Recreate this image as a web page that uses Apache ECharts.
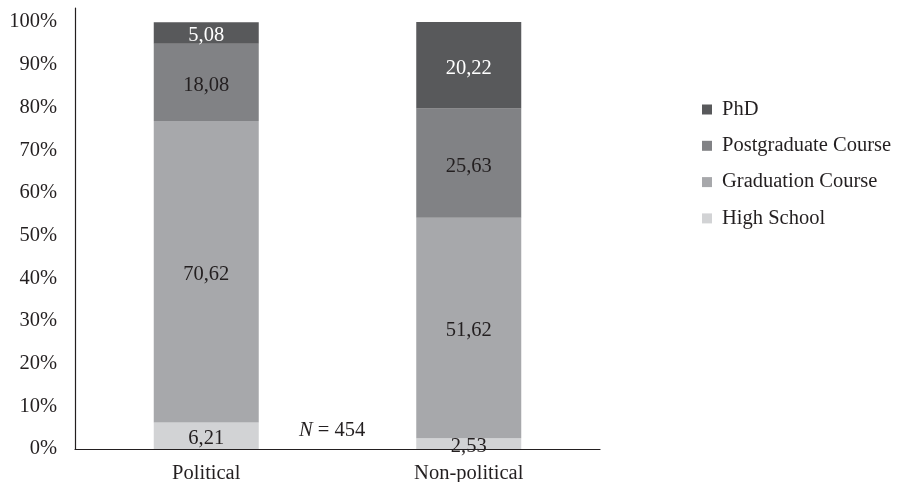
<!DOCTYPE html>
<html>
<head>
<meta charset="utf-8">
<script src="https://cdn.jsdelivr.net/npm/echarts@6/dist/echarts.min.js"></script>
<style>html,body{margin:0;padding:0;background:#fff;}#c{width:899px;height:482px;}</style>
</head>
<body>
<div id="c"></div>
<script>
const categories = ['Political', 'Non-political'];
const highSchool = [6.21, 2.53];
const graduation = [70.62, 51.62];
const postgraduate = [18.08, 25.63];
const phd = [5.08, 20.22];
const seriesNames = ['High School', 'Graduation Course', 'Postgraduate Course', 'PhD'];
const yTicks = [0, 10, 20, 30, 40, 50, 60, 70, 80, 90, 100];

const FONT = '"Liberation Serif", "DejaVu Serif", serif';
const FS = 20.5;
const colors = ['#d2d3d5', '#a7a8ab', '#818285', '#58595b'];
const labelColors = ['#231f20', '#231f20', '#231f20', '#ffffff'];
const dataSets = [highSchool, graduation, postgraduate, phd];

const chart = echarts.init(document.getElementById('c'));
chart.setOption({
  animation: false,
  textStyle: { fontFamily: FONT },
  grid: { left: 75, right: 299, top: 8, bottom: 33, containLabel: false, outerBoundsMode: 'none' },
  legend: {
    data: seriesNames.slice().reverse(),
    orient: 'vertical',
    left: 697,
    top: 94,
    itemWidth: 10,
    itemHeight: 10,
    itemGap: 15.3,
    icon: 'rect',
    textStyle: { fontFamily: FONT, fontSize: FS, color: '#231f20', padding: [0, 0, 0, 5] }
  },
  xAxis: {
    type: 'category',
    data: categories,
    axisLine: { lineStyle: { color: '#231f20', width: 1.2 } },
    axisTick: { show: false },
    axisLabel: { fontFamily: FONT, fontSize: FS, color: '#231f20', margin: 14 }
  },
  yAxis: {
    type: 'value',
    min: 0,
    max: 103.3,
    interval: 10,
    axisLine: { show: true, lineStyle: { color: '#231f20', width: 1.2 } },
    axisTick: { show: false },
    splitLine: { show: false },
    axisLabel: {
      fontFamily: FONT, fontSize: FS, color: '#231f20', margin: 18,
      padding: [2, 0, 0, 0],
      showMaxLabel: false,
      formatter: v => yTicks.indexOf(v) >= 0 ? v + '%' : ''
    }
  },
  series: dataSets.map((d, i) => ({
    name: seriesNames[i],
    type: 'bar',
    stack: 'total',
    data: d,
    barWidth: '40%',
    itemStyle: { color: colors[i] },
    label: {
      show: true,
      position: 'inside',
      offset: [0, 3],
      fontFamily: FONT,
      fontSize: FS,
      color: labelColors[i],
      formatter: p => p.value.toFixed(2).replace('.', ',')
    }
  })),
  graphic: [{
    type: 'text',
    left: 299,
    top: 420,
    style: {
      text: '{i|N} = 454',
      font: FS + 'px ' + FONT,
      fill: '#231f20',
      rich: { i: { fontStyle: 'italic', fontFamily: FONT, fontSize: FS, fill: '#231f20' } }
    }
  }]
});
</script>
</body>
</html>
